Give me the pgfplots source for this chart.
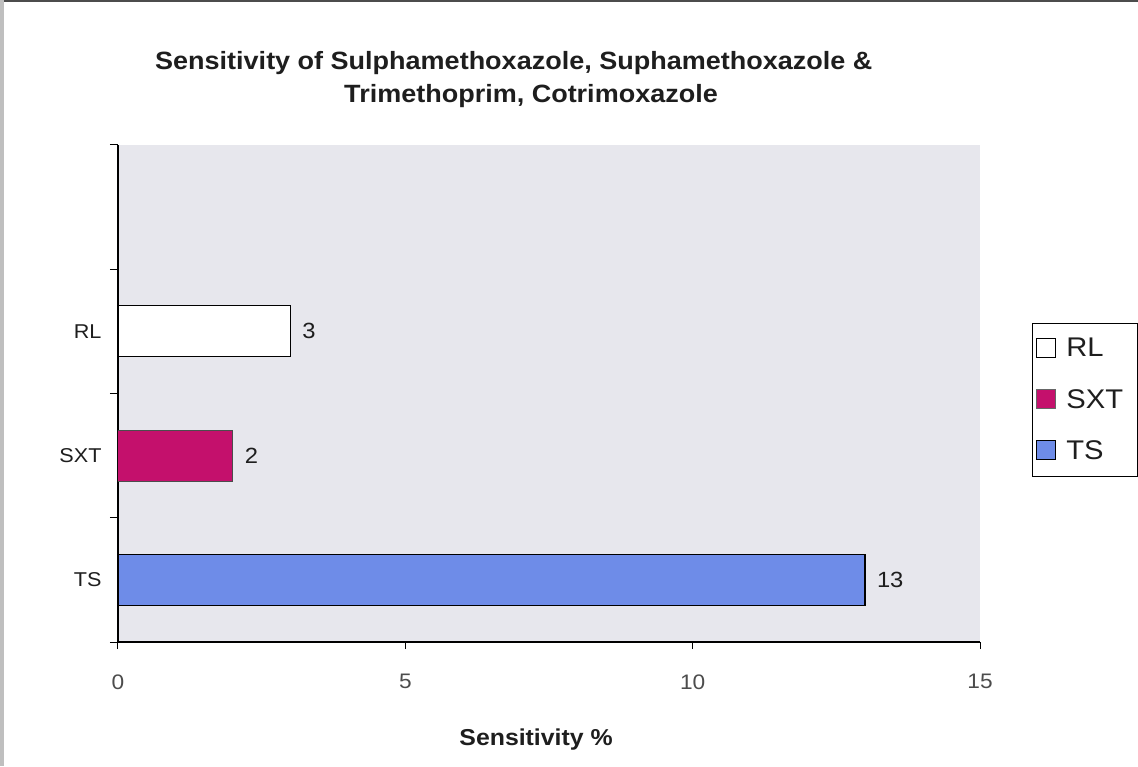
\documentclass[border=0pt]{standalone}
\usepackage{fontspec}
\setmainfont{Liberation Sans}[FakeStretch=1.08]
\usepackage{pgfplots}
\pgfplotsset{compat=1.18}
\definecolor{plotbg}{RGB}{231,231,237}
\definecolor{sxt}{RGB}{196,16,108}
\definecolor{ts}{RGB}{110,140,232}
\definecolor{txt}{RGB}{30,30,30}
\begin{document}
\begin{tikzpicture}[x=1pt,y=1pt]
\useasboundingbox (0,0) rectangle (1138,766);
\fill[white] (0,0) rectangle (1138,766);
\fill[black!70] (0,763.5) rectangle (1138,766);
\fill[black!25] (0,0) rectangle (4,766);
\node[font=\fontsize{25}{25}\selectfont\bfseries, text=txt, anchor=base west, inner sep=0pt] at (155,696) {Sensitivity of Sulphamethoxazole, Suphamethoxazole \&};
\node[font=\fontsize{25}{25}\selectfont\bfseries, text=txt, anchor=base east, inner sep=0pt] at (718,663) {Trimethoprim, Cotrimoxazole};
\begin{axis}[
  at={(118pt,124pt)}, anchor=south west,
  scale only axis, width=862pt, height=497pt,
  xmin=0, xmax=15, ymin=-0.5, ymax=3.5,
  axis x line*=bottom, axis y line*=left,
  axis line style={black, line width=1.3pt, -},
  axis background/.style={fill=plotbg},
  xtick={0,5,10,15},
  ytick={0,1,2}, yticklabels={TS,SXT,RL},
  minor ytick={-0.5,0.5,1.5,2.5,3.5},
  tick align=outside,
  major tick length=7pt, minor tick length=8pt,
  major y tick style={draw=none},
  xtick style={black, line width=1pt},
  minor y tick style={black, line width=1pt},
  /pgf/number format/assume math mode=true,
  xticklabel style={font=\fontsize{21}{21}\selectfont, text=black!70, yshift=-22pt},
  yticklabel style={font=\fontsize{20}{20}\selectfont, text=txt, xshift=-6pt},
  xlabel={Sensitivity \%},
  xlabel style={font=\fontsize{23}{23}\selectfont\bfseries, text=txt, at={(axis description cs:0.485,-0.197)}, anchor=center},
  point meta=x,
  nodes near coords,
  every node near coord/.append style={font=\fontsize{22}{22}\selectfont, text=txt, anchor=west, xshift=8pt},
  legend style={at={(1.0603,0.642)}, anchor=north west, draw=black, line width=0.8pt,
    font=\fontsize{27}{27}\selectfont, text=txt, inner xsep=4pt, inner ysep=13pt, row sep=27pt,
    nodes={inner xsep=10pt}},
  legend cell align=left,
]
\addplot[xbar, bar width=51pt, bar shift=0pt, draw=black, line width=1.2pt, fill=white,
  legend image code/.code={\draw[draw=black,line width=1pt,fill=white] (5pt,-9pt) rectangle (24pt,10pt);}]
  coordinates {(3,2)};
\addplot[xbar, bar width=51pt, bar shift=0pt, draw=black!70, line width=1pt, fill=sxt,
  legend image code/.code={\draw[draw=black!60,line width=1pt,fill=sxt] (5pt,-9pt) rectangle (24pt,10pt);}]
  coordinates {(2,1)};
\addplot[xbar, bar width=51pt, bar shift=0pt, draw=black, line width=1.2pt, fill=ts,
  legend image code/.code={\draw[draw=black,line width=1pt,fill=ts] (5pt,-9pt) rectangle (24pt,10pt);}]
  coordinates {(13,0)};
\legend{RL,SXT,TS}
\end{axis}
\end{tikzpicture}
\end{document}
